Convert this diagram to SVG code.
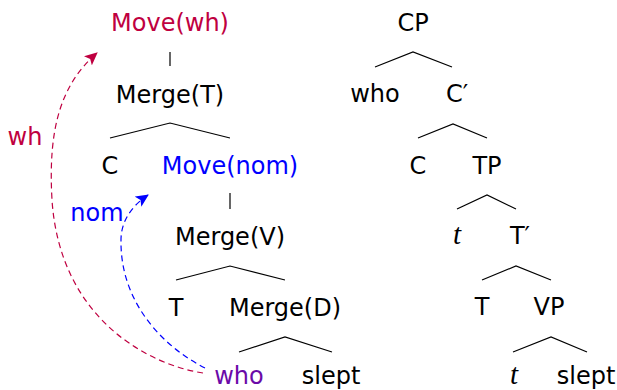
<svg xmlns="http://www.w3.org/2000/svg" width="617" height="390" viewBox="0 0 617 390">
<style>
text{font-family:"DejaVu Sans",sans-serif;font-size:24px;text-anchor:middle;fill:#000}
.it{font-family:"Liberation Serif",serif;font-style:italic;font-size:29px}
.wh{fill:#BF0040}
.nom{fill:#0000FF}
.who{fill:#6B0AA8}
.br{fill:none;stroke:#000;stroke-width:1.2}
.mv{fill:none;stroke-width:1.2;stroke-dasharray:6 4}
</style>
<defs>
<marker id="ahR" markerWidth="14" markerHeight="12" refX="12" refY="6" orient="auto" markerUnits="userSpaceOnUse">
<path d="M0,0 L13,6 L0,12 L3,6 Z" fill="#BF0040"/>
</marker>
<marker id="ahB" markerWidth="14" markerHeight="12" refX="12" refY="6" orient="auto" markerUnits="userSpaceOnUse">
<path d="M0,0 L13,6 L0,12 L3,6 Z" fill="#0000FF"/>
</marker>
</defs>

<g id="derivation-tree">
<g id="move-wh"><text class="wh" x="170" y="31">Move(wh)</text></g>
<g id="merge-T"><text x="170" y="103">Merge(T)</text></g>
<g id="C-left"><text x="110" y="174">C</text></g>
<g id="move-nom"><text class="nom" x="230" y="174">Move(nom)</text></g>
<g id="merge-V"><text x="230" y="245">Merge(V)</text></g>
<g id="T-left"><text x="176" y="316">T</text></g>
<g id="merge-D"><text x="285" y="316">Merge(D)</text></g>
<g id="who-left"><text class="who" x="239" y="384">who</text></g>
<g id="slept-left"><text x="331" y="384">slept</text></g>
</g>

<g id="phrase-tree">
<g id="CP"><text x="413" y="31">CP</text></g>
<g id="who-right"><text x="375" y="102">who</text></g>
<g id="Cbar"><text x="457" y="102">C′</text></g>
<g id="C-right"><text x="418" y="174">C</text></g>
<g id="TP"><text x="487" y="174">TP</text></g>
<g id="t1"><text class="it" x="457" y="244">t</text></g>
<g id="Tbar"><text x="520" y="244">T′</text></g>
<g id="T-right"><text x="482" y="315">T</text></g>
<g id="VP"><text x="549" y="315">VP</text></g>
<g id="t2"><text class="it" x="514" y="384">t</text></g>
<g id="slept-right"><text x="586" y="384">slept</text></g>
</g>

<g id="connectors">
<path class="br" d="M170,52 V66"/>
<path class="br" d="M110,138 L170,123 L230,138"/>
<path class="br" d="M230,193 V209"/>
<path class="br" d="M176,280 L230,266 L285,280"/>
<path class="br" d="M239,352 L285,337 L332,352"/>

<path class="br" d="M375,67 L413,52 L452,67"/>
<path class="br" d="M418,138 L453,124 L487,138"/>
<path class="br" d="M457,209 L487,195 L516,209"/>
<path class="br" d="M482,280 L516,266 L551,280"/>
<path class="br" d="M513,352 L551,337 L587,352"/>

<path class="mv" stroke="#BF0040" d="M203,373 C150,365 60,320 52,200 C48,130 60,85 97,53" marker-end="url(#ahR)"/>
<path class="mv" stroke="#0000FF" d="M205,368 C160,345 120,300 121,240 C121,220 133,205 148,195" marker-end="url(#ahB)"/>
<text class="wh" x="25" y="145">wh</text>
<text class="nom" x="97" y="221">nom</text>
</g>
</svg>
